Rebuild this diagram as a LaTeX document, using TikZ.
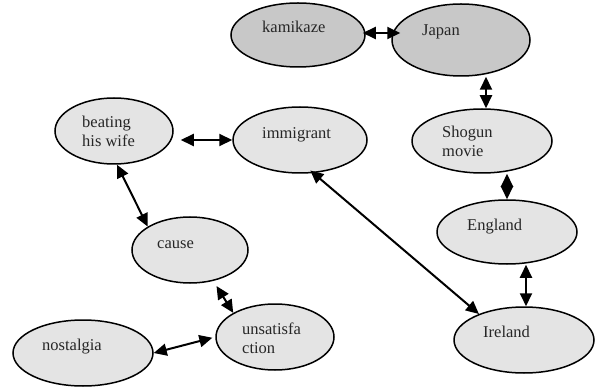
\documentclass[tikz,border=0pt]{standalone}
\usepackage{fontspec}
\setmainfont{Liberation Serif}
\usetikzlibrary{arrows.meta,shapes.geometric}
\tikzset{
  bub/.style={ellipse,draw=black,line width=1.5pt,fill=lightfill,inner sep=0pt},
  dark/.style={bub,fill=darkfill},
  lbl/.style={anchor=base west,inner sep=0pt,align=left,font=\fontsize{16.5}{19}\selectfont,text=black!85},
  dbl/.style={line width=2pt,{Triangle[length=13pt,width=12pt]}-{Triangle[length=13pt,width=12pt]}}
}
\definecolor{lightfill}{HTML}{E4E4E4}
\definecolor{darkfill}{HTML}{C8C8C8}
\begin{document}
\begin{tikzpicture}[x=1pt,y=-1pt]
\useasboundingbox (0,0) rectangle (599,387);
\node[dark,minimum width=134pt,minimum height=64pt] (kam) at (298,35) {};
\node[dark,minimum width=138pt,minimum height=72pt] (jap) at (461,40) {};
\node[bub,minimum width=140pt,minimum height=64pt] (sho) at (482,141) {};
\node[bub,minimum width=140pt,minimum height=64pt] (eng) at (507,232) {};
\node[bub,minimum width=140pt,minimum height=66pt] (ire) at (524,340) {};
\node[bub,minimum width=118pt,minimum height=66pt] (bea) at (114,131) {};
\node[bub,minimum width=134pt,minimum height=66pt] (imm) at (300,140) {};
\node[bub,minimum width=116pt,minimum height=66pt] (cau) at (190,250) {};
\node[bub,minimum width=118pt,minimum height=66pt] (uns) at (275,337) {};
\node[bub,minimum width=140pt,minimum height=66pt] (nos) at (83,353) {};

\node[lbl] (tkam) at (262,33) {kamikaze};
\node[lbl] (tjap) at (422,36) {Japan};
\node[lbl] (tsho) at (442,157) {Shogun\\movie};
\node[lbl] (teng) at (467,230) {England};
\node[lbl] (tire) at (483,337) {Ireland};
\node[lbl] (tbea) at (82,147) {beating\\his wife};
\node[lbl] (timm) at (262,139) {immigrant};
\node[lbl] (tcau) at (157,248) {cause};
\node[lbl] (tuns) at (242,353) {unsatisfa\\ction};
\node[lbl] (tnos) at (42,350) {nostalgia};

\draw[dbl,shorten >=-9pt,shorten <=-3pt] ([yshift=2pt]kam.east) -- ([yshift=2pt]kam.east -| jap.west);
\draw[dbl] ([xshift=4pt]sho.north |- jap.south) -- ([xshift=4pt]sho.north);
\draw[dbl] (eng.north |- sho.south) -- (eng.north);
\draw[dbl] ([xshift=2pt]ire.north |- eng.south) -- ([xshift=2pt]ire.north);
\draw[dbl,shorten <=-4pt] (imm.-68) -- (ire.150);
\draw[dbl,shorten <=7pt] (imm.west -| bea.east) -- (imm.west);
\draw[dbl] (bea.-85) -- (cau.151);
\draw[dbl,shorten <=6pt] (cau.-53) -- (uns.150);
\draw[dbl,shorten >=3pt] (nos.east) -- (uns.west);
\end{tikzpicture}
\end{document}
